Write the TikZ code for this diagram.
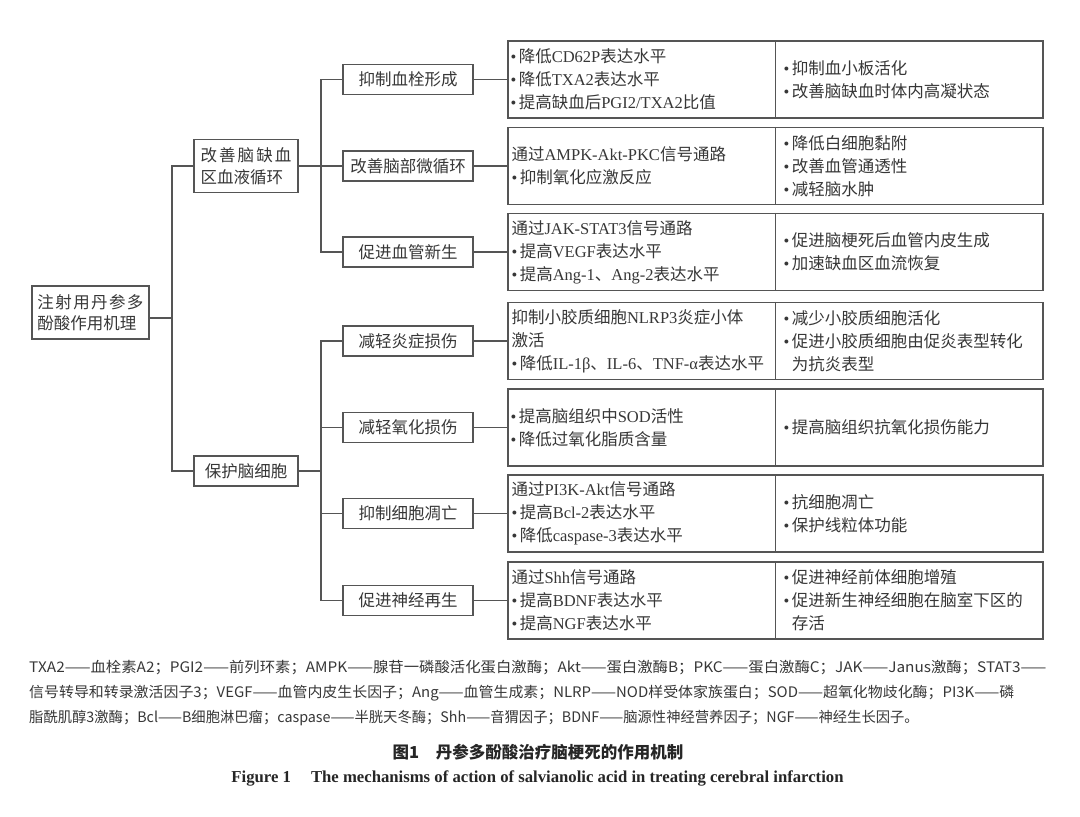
\documentclass[tikz,border=0pt]{standalone}
\usepackage{fontspec}
\setmainfont{Noto Sans CJK SC}
\newfontfamily\latf{Liberation Serif}
\newcommand\EN[1]{{\latf #1}}
\newcommand\bu{{\latf •}\hspace{2.5pt}}
\newcommand\bi{\hphantom{\bu}}
\definecolor{ln}{RGB}{85,85,85}
\definecolor{tx}{RGB}{55,55,55}
\begin{document}
\begin{tikzpicture}[x=1pt,y=-1pt,
  box/.style={draw=ln, line width=1.4pt, rectangle, inner sep=0pt, text=tx},
  lvl/.style={box, minimum width=130pt, minimum height=30pt, font=\fontsize{16.5}{20}\selectfont},
  det/.style={box, minimum width=535pt, minimum height=77pt},
  cell/.style={anchor=west, inner sep=0pt, align=left, text=tx, font=\fontsize{16.5}{23}\selectfont},
  conn/.style={draw=ln, line width=1.4pt},
  fn/.style={anchor=west, inner sep=0pt, text=tx, font=\fontsize{14.5}{18}\selectfont}
]
\useasboundingbox[fill=white] (0,0) rectangle (1080,817);

% root and level 1
\node[box, minimum width=117pt, minimum height=53pt, align=left, font=\fontsize{16.5}{21}\selectfont] (root) at (90.5,312.5)
  {\makebox[106pt][s]{注\hfill 射\hfill 用\hfill 丹\hfill 参\hfill 多}\\酚酸作用机理};
\node[box, minimum width=104pt, minimum height=53pt, align=left, font=\fontsize{16.5}{22}\selectfont] (A) at (246,166)
  {\makebox[91pt][s]{改\hfill 善\hfill 脑\hfill 缺\hfill 血}\\区血液循环};
\node[box, minimum width=104pt, minimum height=30pt, font=\fontsize{16.5}{20}\selectfont] (B) at (246,471) {保护脑细胞};

% level 2
\node[lvl] (c1) at (408,79.5) {抑制血栓形成};
\node[lvl] (c2) at (408,166) {改善脑部微循环};
\node[lvl] (c3) at (408,252) {促进血管新生};
\node[lvl] (c4) at (408,341) {减轻炎症损伤};
\node[lvl] (c5) at (408,427.5) {减轻氧化损伤};
\node[lvl] (c6) at (408,513.5) {抑制细胞凋亡};
\node[lvl] (c7) at (408,600.5) {促进神经再生};

% detail boxes
\node[det] (d1) at (775.5,79.5) {};
\node[det] (d2) at (775.5,166) {};
\node[det] (d3) at (775.5,252) {};
\node[det] (d4) at (775.5,341) {};
\node[det] (d5) at (775.5,427.5) {};
\node[det] (d6) at (775.5,513.5) {};
\node[det] (d7) at (775.5,600.5) {};
\foreach \d in {d1,d2,d3,d4,d5,d6,d7}{\draw[conn] (\d.north) -- (\d.south);}

% connectors
\coordinate (j0) at (172,318);
\draw[conn] (root.east |- j0) -- (j0);
\draw[conn] (A.west) -| (j0) |- (B.west);
\coordinate (j1) at (321,166);
\draw[conn] (A.east) -- (j1);
\draw[conn] (c1.west) -| (j1) |- (c3.west);
\draw[conn] (j1) -- (c2.west);
\coordinate (j2) at (321,471);
\draw[conn] (B.east) -- (j2);
\draw[conn] (c4.west) -| (j2) |- (c7.west);
\draw[conn] (c5.west) -- (c5.west -| j2);
\draw[conn] (c6.west) -- (c6.west -| j2);
\foreach \i in {1,...,7}{\draw[conn] (c\i.east) -- (d\i.west);}

% cell texts
\node[cell] (d1a) at ([xshift=3pt]d1.west) {\bu 降低\EN{CD62P}表达水平\\\bu 降低\EN{TXA2}表达水平\\\bu 提高缺血后\EN{PGI2/TXA2}比值};
\node[cell] (d1b) at ([xshift=8pt]d1.center) {\bu 抑制血小板活化\\\bu 改善脑缺血时体内高凝状态};
\node[cell] (d2a) at ([xshift=4pt]d2.west) {通过\EN{AMPK-Akt-PKC}信号通路\\\bu 抑制氧化应激反应};
\node[cell] (d2b) at ([xshift=8pt]d2.center) {\bu 降低白细胞黏附\\\bu 改善血管通透性\\\bu 减轻脑水肿};
\node[cell] (d3a) at ([xshift=4pt]d3.west) {通过\EN{JAK-STAT3}信号通路\\\bu 提高\EN{VEGF}表达水平\\\bu 提高\EN{Ang-1}、\EN{Ang-2}表达水平};
\node[cell] (d3b) at ([xshift=8pt]d3.center) {\bu 促进脑梗死后血管内皮生成\\\bu 加速缺血区血流恢复};
\node[cell] (d4a) at ([xshift=4pt]d4.west) {抑制小胶质细胞\EN{NLRP3}炎症小体\\激活\\\bu 降低\EN{IL-1β}、\EN{IL-6}、\EN{TNF-α}表达水平};
\node[cell] (d4b) at ([xshift=8pt]d4.center) {\bu 减少小胶质细胞活化\\\bu 促进小胶质细胞由促炎表型转化\\\bi 为抗炎表型};
\node[cell] (d5a) at ([xshift=3pt]d5.west) {\bu 提高脑组织中\EN{SOD}活性\\\bu 降低过氧化脂质含量};
\node[cell] (d5b) at ([xshift=8pt]d5.center) {\bu 提高脑组织抗氧化损伤能力};
\node[cell] (d6a) at ([xshift=4pt]d6.west) {通过\EN{PI3K-Akt}信号通路\\\bu 提高\EN{Bcl-2}表达水平\\\bu 降低\EN{caspase-3}表达水平};
\node[cell] (d6b) at ([xshift=8pt]d6.center) {\bu 抗细胞凋亡\\\bu 保护线粒体功能};
\node[cell] (d7a) at ([xshift=4pt]d7.west) {通过\EN{Shh}信号通路\\\bu 提高\EN{BDNF}表达水平\\\bu 提高\EN{NGF}表达水平};
\node[cell] (d7b) at ([xshift=8pt]d7.center) {\bu 促进神经前体细胞增殖\\\bu 促进新生神经细胞在脑室下区的\\\bi 存活};

% footnote
\node[fn] (f1) at (29,668) {\scalebox{1.06}[1]{TXA2——血栓素A2；PGI2——前列环素；AMPK——腺苷一磷酸活化蛋白激酶；Akt——蛋白激酶B；PKC——蛋白激酶C；JAK——Janus激酶；STAT3——}};
\node[fn] (f2) at (29,693) {\scalebox{1.03}[1]{信号转导和转录激活因子3；VEGF——血管内皮生长因子；Ang——血管生成素；NLRP——NOD样受体家族蛋白；SOD——超氧化物歧化酶；PI3K——磷}};
\node[fn] (f3) at (29,718) {\scalebox{0.987}[1]{脂酰肌醇3激酶；Bcl——B细胞淋巴瘤；caspase——半胱天冬酶；Shh——音猬因子；BDNF——脑源性神经营养因子；NGF——神经生长因子。}};

% caption
\node[inner sep=0pt, text=black!85, font=\fontsize{16.5}{18}\selectfont\bfseries] (cap1) at (538,752) {图1\hspace{1em}丹参多酚酸治疗脑梗死的作用机制};
\node[inner sep=0pt, text=black!85, font=\latf\bfseries\fontsize{16.7}{18}\selectfont] (cap2) at (537.5,778) {Figure 1\hspace{1.2em}The mechanisms of action of salvianolic acid in treating cerebral infarction};
\end{tikzpicture}
\end{document}
